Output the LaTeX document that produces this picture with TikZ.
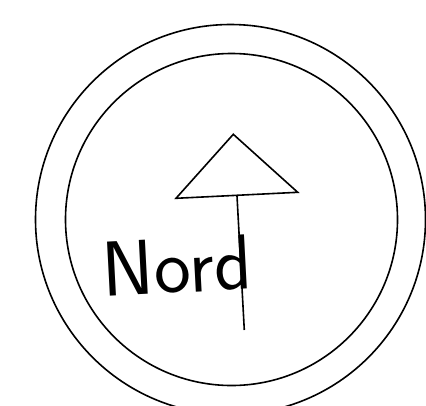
\documentclass[tikz,border=0pt]{standalone}
\usepackage{tikz}

\begin{document}
\begin{tikzpicture}[x=1pt, y=-1pt, line width=1.6pt]
  \tikzset{Ring/.style={draw=black},
           Pointer/.style={draw=black, line join=miter},
           Label/.style={font=\sffamily\fontsize{78}{78}\selectfont, rotate=3, inner sep=0pt}}
  \useasboundingbox (0,0) rectangle (426,405);
  \draw[Ring] (230.5,219.5) circle[radius=195];
  \draw[Ring] (231.5,219.5) circle[radius=166];
  \coordinate (tip) at (233.3,134.3);
  \coordinate (left) at (176,198.3);
  \coordinate (right) at (297.7,192.3);
  \coordinate (base) at (237,196);
  \coordinate (foot) at (244.3,330);
  \draw[Pointer] (tip) -- (left) -- (right) -- cycle;
  \draw[Pointer] (base) -- (foot);
  \node[Label] (nord) at (177,266) {Nord};
\end{tikzpicture}
\end{document}
